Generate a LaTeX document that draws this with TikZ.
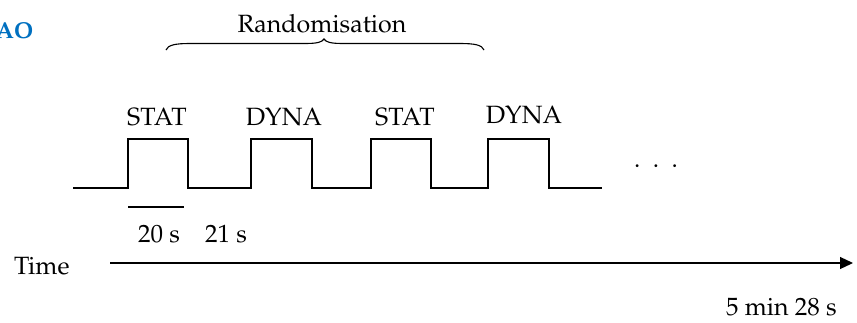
\documentclass[tikz,border=0pt]{standalone}
\usepackage[T1]{fontenc}
\usepackage{mathpazo}
\usetikzlibrary{arrows.meta}
\definecolor{hdblue}{RGB}{0,112,192}
\tikzset{
  lbl/.style={font=\fontsize{25}{30}\selectfont, inner sep=0pt, anchor=base},
  wave/.style={line width=1.4pt, line join=miter},
}
\begin{document}
\begin{tikzpicture}[x=1pt,y=-1pt]
\useasboundingbox (0,0) rectangle (857,322);
% heading fragment
\node[lbl, anchor=base west, text=hdblue, font=\fontsize{23}{28}\selectfont\bfseries] (hd) at (-4,38) {AO};
% randomisation brace
\node[lbl] (rand) at (322,32) {Randomisation};
\coordinate (bl) at (166,50);
\coordinate (br) at (484,50);
\coordinate (bt) at (324,39);
\draw[line width=1.1pt] (bl) .. controls (168,45) and (175,43.5) .. (190,43.5)
  -- (305,43.5) .. controls (318,43.5) and (322,42) .. (bt)
  .. controls (326,42) and (330,43.5) .. (343,43.5)
  -- (460,43.5) .. controls (475,43.5) and (482,45) .. (br);
% square wave
\coordinate (w0) at (73,188);
\coordinate (w1) at (602,188);
\draw[wave] (w0) -- (128,188) -- (128,139) -- (188,139) -- (188,188)
  -- (251,188) -- (251,139) -- (312,139) -- (312,188)
  -- (371,188) -- (371,139) -- (431,139) -- (431,188)
  -- (488,188) -- (488,139) -- (549,139) -- (549,188) -- (w1);
% labels
\node[lbl] (s1) at (157,125) {STAT};
\node[lbl] (d1) at (284,125) {DYNA};
\node[lbl] (s2) at (405,125) {STAT};
\node[lbl] (d2) at (524,123) {DYNA};
\node[lbl] (dots) at (656,167) {.\ \ .\ \ .};
% duration
\coordinate (da) at (128,207);
\coordinate (db) at (184,207);
\draw[line width=1.2pt] (da) -- (db);
\node[lbl] (t20) at (159,242) {20 s};
\node[lbl] (t21) at (226,242) {21 s};
% time axis
\node[lbl, anchor=base west] (time) at (14,274) {Time};
\coordinate (ta) at (110,263);
\coordinate (tb) at (853,263);
\draw[line width=1.2pt, -{Triangle[length=13pt,width=12pt]}] (ta) -- (tb);
\node[lbl, anchor=base east] (tot) at (837,315) {5 min 28 s};
\end{tikzpicture}
\end{document}
